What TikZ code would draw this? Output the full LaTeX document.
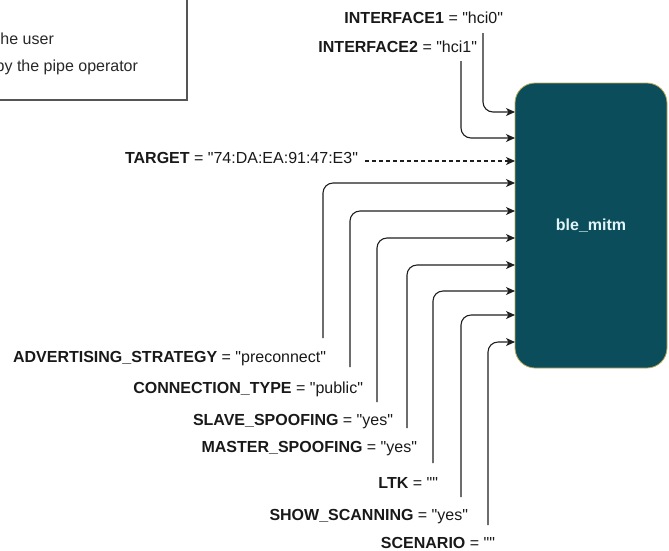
\documentclass[tikz,border=0pt]{standalone}
\usepackage{fontspec}
\setmainfont{Liberation Sans}[Ligatures=TeXOff]
\usetikzlibrary{arrows.meta}

\definecolor{mitmfill}{RGB}{12,77,92}
\definecolor{mitmedge}{RGB}{190,170,90}
\definecolor{mitmtext}{RGB}{225,244,248}
\definecolor{labelink}{RGB}{25,25,25}
\definecolor{wireink}{RGB}{30,30,30}
\definecolor{noteedge}{RGB}{85,85,85}
\definecolor{noteink}{RGB}{40,40,40}

\begin{document}
\begin{tikzpicture}[x=1pt,y=-1pt,
  every node/.style={inner sep=0pt, outer sep=0pt},
  lbl/.style={anchor=base east, font=\fontsize{16}{19}\selectfont, text=labelink},
  notetext/.style={font=\fontsize{16}{19}\selectfont, text=noteink},
  wire/.style={draw=wireink, line width=1.1pt, rounded corners=10pt,
    -{Stealth[length=9pt,width=8pt,inset=2.5pt]}},
  block/.style={draw=mitmedge, fill=mitmfill, line width=0.8pt,
    rounded corners=20pt, text=mitmtext,
    font=\fontsize{16}{19}\selectfont\bfseries}]

  \useasboundingbox (0,0) rectangle (669,550);
  \clip (0,0) rectangle (669,550);

  % note box in the upper left corner
  \draw[draw=noteedge, line width=1.3pt] (-20,-20) rectangle (187,100);
  \node[notetext, anchor=base west] (note1) at (0.5,44) {he user};
  \node[notetext, anchor=base east] (note2) at (138,71) {by the pipe operator};

  % the module block
  \node[block, minimum width=152pt, minimum height=285pt] (box) at (591,225.5) {ble\_mitm};

  % option labels
  \node[lbl] (if1)  at (503,23)  {\textbf{INTERFACE1} = "hci0"};
  \node[lbl] (if2)  at (477,52)  {\textbf{INTERFACE2} = "hci1"};
  \node[lbl] (tgt)  at (358,163) {\textbf{TARGET} = "74:DA:EA:91:47:E3"};
  \node[lbl] (adv)  at (326,362) {\textbf{ADVERTISING\_STRATEGY} = "preconnect"};
  \node[lbl] (conn) at (363,393) {\textbf{CONNECTION\_TYPE} = "public"};
  \node[lbl] (slv)  at (393,425) {\textbf{SLAVE\_SPOOFING} = "yes"};
  \node[lbl] (mst)  at (417,452) {\textbf{MASTER\_SPOOFING} = "yes"};
  \node[lbl] (ltk)  at (438,488) {\textbf{LTK} = ""};
  \node[lbl] (scan) at (468,520) {\textbf{SHOW\_SCANNING} = "yes"};
  \node[lbl] (scen) at (495,548) {\textbf{SCENARIO} = ""};

  % connectors into the block
  \draw[wire] ([xshift=-20pt,yshift=-10pt]if1.base east) |- (box.west |- 0,112);
  \draw[wire] ([xshift=-16pt,yshift=-9pt]if2.base east) |- (box.west |- 0,138);
  \draw[wire, dash pattern=on 4pt off 3pt] ([xshift=7pt,yshift=2pt]tgt.base east) -- (box.west |- 0,161);
  \draw[wire] ([xshift=-3pt,yshift=24pt]adv.base east)  |- (box.west |- 0,183);
  \draw[wire] ([xshift=-13pt,yshift=26pt]conn.base east) |- (box.west |- 0,211);
  \draw[wire] ([xshift=-16pt,yshift=23pt]slv.base east)  |- (box.west |- 0,238);
  \draw[wire] ([xshift=-10pt,yshift=24pt]mst.base east)  |- (box.west |- 0,265);
  \draw[wire] ([xshift=-5pt,yshift=25pt]ltk.base east)   |- (box.west |- 0,291);
  \draw[wire] ([xshift=-7pt,yshift=23pt]scan.base east)  |- (box.west |- 0,315);
  \draw[wire] ([xshift=-7pt,yshift=23pt]scen.base east)  |- (box.west |- 0,342);
\end{tikzpicture}
\end{document}
